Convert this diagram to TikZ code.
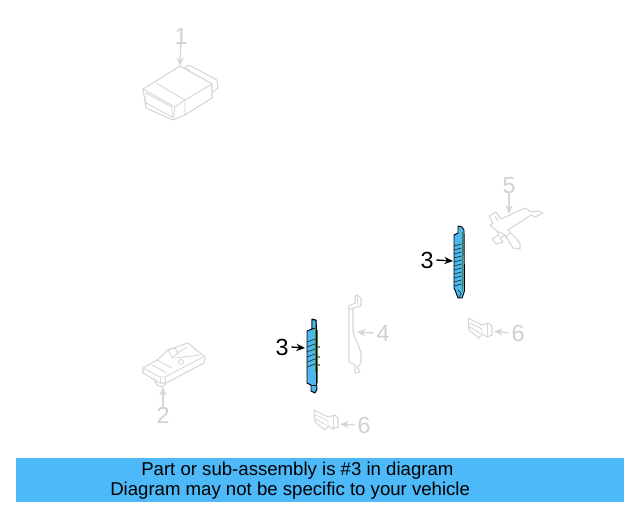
\documentclass[tikz,border=0pt]{standalone}
\usepackage{fontspec}
\setmainfont{Liberation Sans}
\usetikzlibrary{arrows.meta}
\definecolor{ghost}{HTML}{D6D6D6}
\definecolor{ghosttext}{HTML}{D0D0D0}
\definecolor{partblue}{HTML}{4DB8F0}
\definecolor{bannerblue}{HTML}{4DB9F8}
\definecolor{partgreen}{HTML}{4F7F3C}
\tikzset{
  ghostline/.style={draw=ghost,line width=0.8pt,line join=round,fill=white},
  ghostthin/.style={draw=ghost,line width=0.65pt,line join=round},
  ghostlabel/.style={text=ghosttext,font=\fontsize{17.5pt}{19pt}\selectfont,inner sep=0pt},
  partlabel/.style={text=black,font=\fontsize{17.5pt}{19pt}\selectfont,inner sep=0pt},
  ghostarrow/.style={draw=ghost,line width=1pt,-{Stealth[length=6.5pt,width=5.5pt]}},
  partarrow/.style={draw=black,line width=1pt,-{Stealth[length=6.5pt,width=5.5pt]}},
  partbody/.style={draw=black,line width=0.7pt,fill=partblue,line join=round},
  rung/.style={draw=black!70!partgreen,line width=0.45pt},
  greenedge/.style={draw=partgreen,line width=0.6pt},
  bannertext/.style={text=black,font=\fontsize{13.95pt}{15pt}\selectfont,inner sep=0pt,anchor=west}
}
\begin{document}
\begin{tikzpicture}[x=0.75pt,y=-0.75pt]
\useasboundingbox (0,0) rectangle (640,512);
% part 1
\path[ghostline] (185,67) -- (189,65) -- (217,80) -- (218,88) -- (213,92) -- (205,85) -- cycle;
\path[ghostline] (180,66) -- (212,84) -- (212,98) -- (185,115) -- (173,120) -- (146,108) -- (143,89) -- cycle;
\draw[ghostthin] (143,89) -- (175,107) -- (185,100) -- (212,84);
\draw[ghostthin] (156,83) -- (185,100) -- (185,115);
\draw[ghostthin] (175,107) -- (173,120);
\draw[ghostthin] (146,93) -- (172,107) -- (172,117) -- (146,103) -- cycle;
\coordinate (tip1) at (180,66);
\node[ghostlabel] (n1) at (181,36) {1};
\draw[ghostarrow] (n1.south) ++(0,2pt) -- (tip1);
% part 2
\path[ghostline] (153,378) -- (157,385) -- (162,387) -- (166,383) -- (153,375) -- cycle;
\path[ghostline] (143,368) -- (157,360) -- (168,350) -- (188,343) -- (205,357) -- (204,363) -- (166,383) -- (160,383) -- (143,373) -- cycle;
\draw[ghostthin] (143,368) -- (160,377) -- (165,377) -- (203,357);
\draw[ghostthin] (160,377) -- (160,383);
\draw[ghostthin] (165,377) -- (166,383);
\draw[ghostthin] (157,360) -- (172,368);
\draw[ghostthin] (152,365) -- (167,373);
\draw[ghostthin] (168,350) -- (175,348) -- (178,353) -- (172,358) -- cycle;
\draw[ghostthin] (181,362) circle (2.5);
\draw[ghostthin] (177,353) -- (187,347);
\draw[ghostthin] (175,358) -- (200,355);
\coordinate (tip2) at (163,387);
\node[ghostlabel] (n2) at (163,415) {2};
\draw[ghostarrow] (n2.north) ++(0,-2pt) -- (tip2);
% part 4
\path[ghostline] (349,306) -- (355,303) -- (355,296) -- (357,295) -- (361,298) -- (361,306) -- (353,308) -- (353,332) -- (361,352) -- (361,363) -- (357,367) -- (360,372) -- (355,373) -- (355,365) -- (349,362) -- cycle;
\draw[ghostthin] (357,295) -- (358,305);
\draw[ghostthin] (349,310) -- (353,308);
\coordinate (tip4) at (357,332);
\node[ghostlabel] (n4) at (383,333) {4};
\draw[ghostarrow] (n4.west) ++(-2pt,0) -- (tip4);
% part 5
\path[ghostline] (489,216) -- (496,212) -- (501,219) -- (525,208) -- (531,212) -- (538,211) -- (543,213) -- (535,217) -- (531,215) -- (508,230) -- (520,243) -- (520,249) -- (513,248) -- (505,235) -- (500,238) -- (503,242) -- (496,244) -- (492,239) -- (499,235) -- (497,231) -- (490,225) -- (493,223) -- cycle;
\draw[ghostthin] (495,216) -- (498,221);
\draw[ghostthin] (497,231) -- (505,235);
\draw[ghostthin] (510,233) -- (505,238);
\coordinate (tip5) at (509,214);
\node[ghostlabel] (n5) at (509,186) {5};
\draw[ghostarrow] (n5.south) ++(0,2pt) -- (tip5);
% part 6 lower
\path[ghostline] (314,410) -- (328,417) -- (335,415) -- (338,418) -- (338,427) -- (333,429) -- (328,426) -- (325,430) -- (315,422) -- cycle;
\draw[ghostthin] (314,414) -- (328,421) -- (328,426);
\draw[ghostthin] (314,418) -- (326,425);
\draw[ghostthin] (333,416) -- (333,429);
\coordinate (tip6a) at (340,424);
\node[ghostlabel] (n6a) at (364,425) {6};
\draw[ghostarrow] (n6a.west) ++(-2pt,0) -- (tip6a);
% part 6 upper
\path[ghostline] (468,318) -- (482,325) -- (489,323) -- (492,326) -- (492,335) -- (487,337) -- (482,334) -- (479,338) -- (469,330) -- cycle;
\draw[ghostthin] (468,322) -- (482,329) -- (482,334);
\draw[ghostthin] (468,326) -- (480,333);
\draw[ghostthin] (487,324) -- (487,337);
\coordinate (tip6b) at (494,331);
\node[ghostlabel] (n6b) at (518,333) {6};
\draw[ghostarrow] (n6b.west) ++(-2pt,0) -- (tip6b);
% part 3 right
\path[partbody] (454,235) -- (458,233) -- (458,226) -- (462,227) -- (464,230) -- (464.5,291) -- (462,298) -- (458,298) -- (455,290) -- (454,288) -- cycle;
\draw[greenedge] (462,232) -- (462,291);
\foreach \y in {244,248,252,256,260,264,268,272,276,280,284}
  \draw[rung] (454,\y+2) -- (461.5,\y);
\draw[rung] (458,290) -- (461,293) -- (459,298);
\coordinate (tip3b) at (453,261);
\node[partlabel] (n3b) at (427,260) {3};
\draw[partarrow] (n3b.east) ++(2pt,0) -- (tip3b);
% part 3 left
\fill[black] (319,347) circle (0.9) (319,357) circle (0.9) (319,365) circle (0.9);
\draw[greenedge] (317.5,330) -- (317.5,383);
\path[partbody] (312,319) -- (316,320) -- (316.5,328) -- (316.5,383) -- (317,389) -- (315,393) -- (311,391) -- (311,385) -- (307,383) -- (307,331) -- (312,329) -- cycle;
\path[draw=black,line width=0.5pt,fill=partblue] (312,319.5) -- (316,320.5) -- (316,328) -- (312,329) -- cycle;
\foreach \y in {340,345,350,355,360,365}
  \draw[rung] (307,\y+2) -- (315,\y-1);
\draw[draw=partgreen,line width=0.5pt] (315,328) -- (315,372);
\draw[draw=black,line width=0.5pt] (311,385) -- (316,385);
\coordinate (tip3a) at (305,348);
\node[partlabel] (n3a) at (282,347) {3};
\draw[partarrow] (n3a.east) ++(2pt,0) -- (tip3a);
% banner
\fill[bannerblue] (16,458) rectangle (624,502);
\node[bannertext] (line1) at (141,471) {Part or sub-assembly is \#3 in diagram};
\node[bannertext] (line2) at (110,491) {Diagram may not be specific to your vehicle};
\end{tikzpicture}
\end{document}
